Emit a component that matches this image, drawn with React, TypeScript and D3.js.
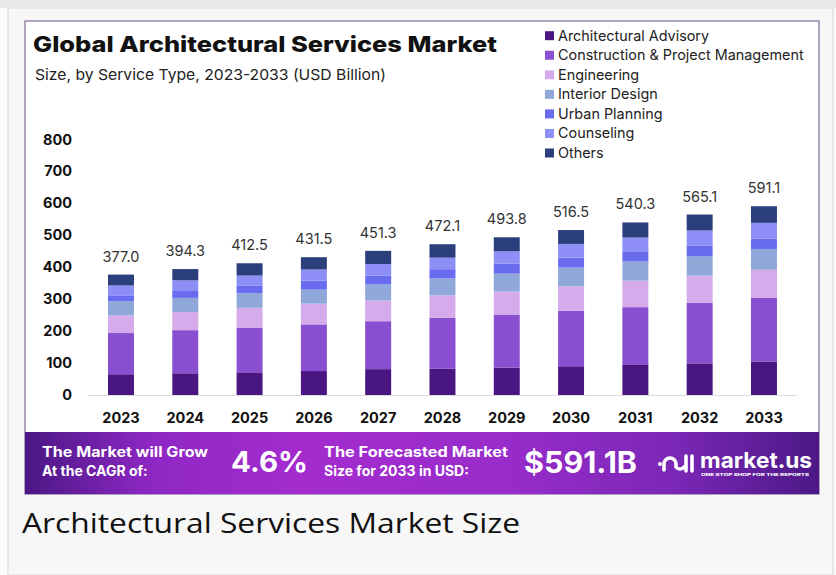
import React from "react";
import * as d3 from "d3";

const years = ["2023", "2024", "2025", "2026", "2027", "2028", "2029", "2030", "2031", "2032", "2033"];
const totals = [377.0, 394.3, 412.5, 431.5, 451.3, 472.1, 493.8, 516.5, 540.3, 565.1, 591.1];
const seriesNames = [
  "Architectural Advisory",
  "Construction & Project Management",
  "Engineering",
  "Interior Design",
  "Urban Planning",
  "Counseling",
  "Others",
];
const advisory = [65, 68, 71, 75, 81, 83, 86, 90, 96, 99, 105];
const construction = [129, 135, 140, 146, 150, 159, 166, 174, 179, 189, 199];
const engineering = [55, 57, 62, 65, 65, 70, 72, 76, 83, 86, 88];
const interior = [45, 44, 46, 44, 50, 53, 56, 59, 60, 60, 65];
const urban = [18, 24, 24, 28, 28, 29, 31, 31, 32, 34, 33];
const counseling = [31, 31, 31, 35, 36, 36, 39, 43, 43, 47, 49];
const others = [34, 35.3, 38.5, 38.5, 41.3, 42.1, 43.8, 43.5, 47.3, 50.1, 52.1];
const yTicks = [0, 100, 200, 300, 400, 500, 600, 700, 800];
const colors = ["#4a1682", "#8a4fd0", "#d5abec", "#8fa8d9", "#6a6cf0", "#8d8ef6", "#2b3f7c"];

const seriesValues = [advisory, construction, engineering, interior, urban, counseling, others];

export default function App() {
  const W = 836;
  const H = 575;
  const font = "Inter, 'Noto Sans', sans-serif";

  const x = d3.scaleBand().domain(years).range([75.85, 809.1]).paddingInner(0.596).paddingOuter(0.5);
  const y = d3.scaleLinear().domain([0, 800]).range([395, 139.5]);

  const table = years.map((yr, i) => {
    const row: any = { year: yr };
    seriesNames.forEach((s, k) => (row[s] = seriesValues[k][i]));
    return row;
  });
  const stacked = d3.stack<any>().keys(seriesNames)(table);

  return (
    <div style={{ position: "absolute", left: 0, top: 0 }}>
      <svg width={W} height={H} style={{ display: "block" }}>
        <defs>
          <linearGradient id="band" x1="0" x2="1" y1="0" y2="0">
            <stop offset="0" stopColor="#4a1784" />
            <stop offset="0.16" stopColor="#8e27c4" />
            <stop offset="0.35" stopColor="#a42ccf" />
            <stop offset="0.6" stopColor="#992ccb" />
            <stop offset="0.82" stopColor="#7a27b6" />
            <stop offset="1" stopColor="#4c1886" />
          </linearGradient>
        </defs>
        <rect x={0} y={0} width={W} height={H} fill="#fafafa" />
        <rect x={0} y={0} width={W} height={8} fill="#e9e9e9" />
        <rect x={8} y={8} width={825} height={H - 8} fill="#f7f7f7" stroke="#e2e2e2" strokeWidth={1.5} />
        <rect x={25} y={21} width={794} height={473} fill="#ffffff" stroke="#6a4c86" strokeWidth={1} />

        <text x={33} y={52} fontFamily={font} fontWeight={800} fontSize={22} fill="#111" textLength={464} lengthAdjust="spacingAndGlyphs">
          Global Architectural Services Market
        </text>
        <text x={35} y={80} fontFamily={font} fontSize={15} fill="#222" textLength={351} lengthAdjust="spacingAndGlyphs">
          Size, by Service Type, 2023-2033 (USD Billion)
        </text>

        {seriesNames.map((s, k) => (
          <g key={s} transform={`translate(545, ${35.7 + k * 19.55})`}>
            <rect x={0} y={-4.5} width={9} height={9} fill={colors[k]} />
            <text x={13} y={5} fontFamily={font} fontSize={14.4} fill="#222">
              {s}
            </text>
          </g>
        ))}

        {yTicks.map((t) => (
          <text key={t} x={72} y={y(t) + 5} textAnchor="end" fontFamily={font} fontWeight={700} fontSize={14.5} fill="#111">
            {t}
          </text>
        ))}
        <line x1={88} x2={797} y1={395.5} y2={395.5} stroke="#dcdcdc" strokeWidth={1} />

        {stacked.map((layer, k) => (
          <g key={layer.key} fill={colors[k]}>
            {layer.map((d, i) => (
              <rect key={i} x={x(years[i])} y={y(d[1])} width={x.bandwidth()} height={y(d[0]) - y(d[1])} />
            ))}
          </g>
        ))}

        {years.map((yr, i) => (
          <text key={yr} x={(x(yr) as number) + x.bandwidth() / 2} y={y(totals[i]) - 13} textAnchor="middle" fontFamily={font} fontSize={14.5} fill="#333">
            {totals[i].toFixed(1)}
          </text>
        ))}
        {years.map((yr) => (
          <text key={yr} x={(x(yr) as number) + x.bandwidth() / 2} y={423} textAnchor="middle" fontFamily={font} fontWeight={700} fontSize={14.5} fill="#111">
            {yr}
          </text>
        ))}

        <rect x={25} y={432} width={794} height={62} fill="url(#band)" />
        <g fontFamily={font} fill="#ffffff" fontWeight={700}>
          <text x={42} y={457} fontSize={14} textLength={166} lengthAdjust="spacingAndGlyphs">The Market will Grow</text>
          <text x={42} y={476} fontSize={14}>At the CAGR of:</text>
          <text x={231} y={472} fontSize={29} textLength={77} lengthAdjust="spacingAndGlyphs">4.6%</text>
          <text x={324} y={457} fontSize={14} textLength={184} lengthAdjust="spacingAndGlyphs">The Forecasted Market</text>
          <text x={324} y={476} fontSize={14}>Size for 2033 in USD:</text>
          <text x={524} y={473} fontSize={30} textLength={113} lengthAdjust="spacingAndGlyphs">$591.1B</text>
          <text x={700} y={468} fontSize={22} textLength={112} lengthAdjust="spacingAndGlyphs">market.us</text>
          <text x={701} y={476} fontSize={3.6} textLength={108} lengthAdjust="spacingAndGlyphs" fontWeight={800}>ONE STOP SHOP FOR THE REPORTS</text>
        </g>
        <g fill="none" stroke="#ffffff" strokeWidth={3.6} strokeLinecap="round">
          <circle cx={660} cy={464} r={2} fill="#fff" stroke="none" />
          <path d="M664 470 L664 464 A6 6 0 0 1 676 464 L676 467 A5 5 0 0 0 684 467" />
          <line x1={686} y1={456} x2={686} y2={471} />
          <line x1={692} y1={456} x2={692} y2={471} />
        </g>

        <text x={22} y={533} fontFamily="'Open Sans', sans-serif" fontSize={28} fill="#111" textLength={498} lengthAdjust="spacingAndGlyphs">
          Architectural Services Market Size
        </text>
      </svg>
    </div>
  );
}
